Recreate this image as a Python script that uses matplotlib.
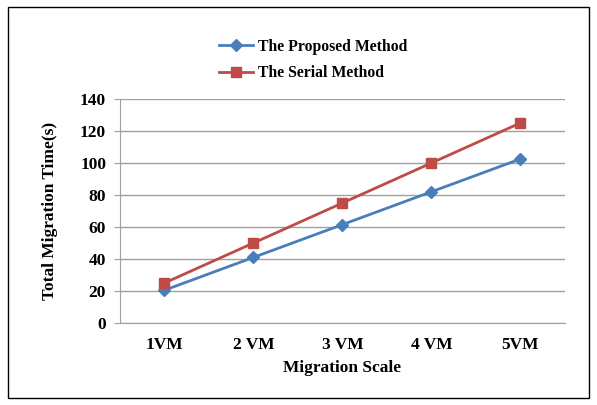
import matplotlib
matplotlib.use("Agg")
import matplotlib.pyplot as plt
from matplotlib.patches import Rectangle

categories = ["1VM", "2 VM", "3 VM", "4 VM", "5VM"]
proposed = [20.5, 41, 61.5, 82, 102.5]
serial = [25, 50, 75, 100, 125]
yticks = [0, 20, 40, 60, 80, 100, 120, 140]

plt.rcParams["font.family"] = "Liberation Serif"
plt.rcParams["font.weight"] = "bold"

fig = plt.figure(figsize=(5.97, 4.05), dpi=100)
ax = fig.add_axes([0.201, 0.2025, 0.745, 0.553])

x = list(range(len(categories)))
ax.plot(x, proposed, color="#4a7ebb", marker="D", markersize=6, linewidth=2,
        label="The Proposed Method")
ax.plot(x, serial, color="#be4b48", marker="s", markersize=7, linewidth=2,
        label="The Serial Method")

ax.set_xlim(-0.5, 4.5)
ax.set_ylim(0, 140)
ax.set_yticks(yticks)
ax.set_xticks(x)
ax.set_xticklabels(categories)
ax.tick_params(axis="x", length=0, pad=10, labelsize=12.5)
ax.tick_params(axis="y", length=4, color="#a0a0a0", pad=6, labelsize=12.5)
ax.grid(axis="y", color="#a0a0a0", linewidth=1)
ax.set_axisbelow(True)
for s in ["top", "right"]:
    ax.spines[s].set_visible(False)
ax.spines["left"].set_color("#a0a0a0")
ax.spines["bottom"].set_color("#a0a0a0")

ax.set_xlabel("Migration Scale", fontsize=12.5, fontweight="bold", labelpad=5)
ax.set_ylabel("Total Migration Time(s)", fontsize=12.5, fontweight="bold", labelpad=16)

ax.legend(loc="upper left", bbox_to_anchor=(0.19, 1.333), frameon=False,
          fontsize=11.3, handlelength=2.2, handletextpad=0.3, labelspacing=0.68)

fig.patches.append(Rectangle((8 / 597, 7 / 405), 581 / 597, 391 / 405,
                             transform=fig.transFigure, fill=False,
                             edgecolor="black", linewidth=1))

fig.savefig("out.png", dpi=100)
